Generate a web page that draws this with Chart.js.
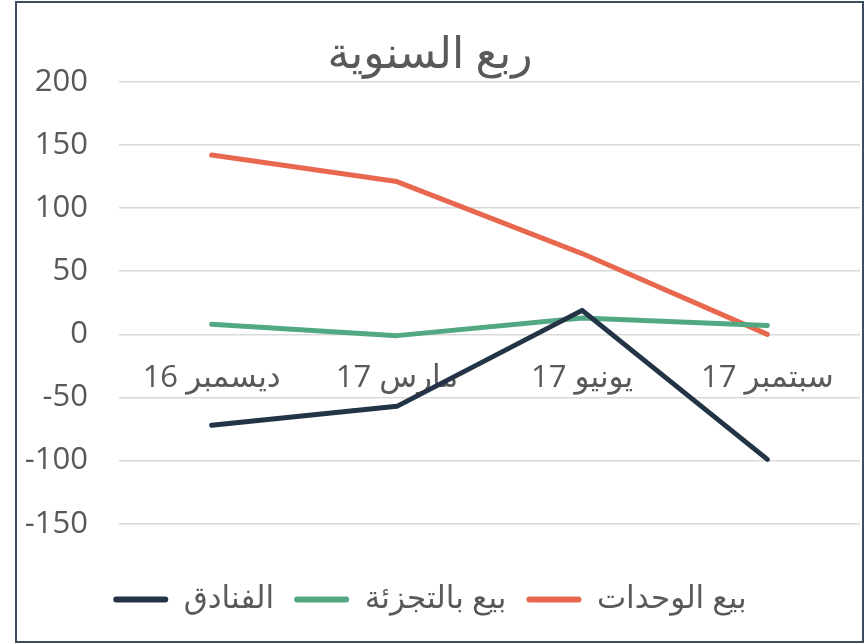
<!DOCTYPE html>
<html>
<head>
<meta charset="utf-8">
<script src="https://cdn.jsdelivr.net/npm/chart.js@4/dist/chart.umd.min.js"></script>
<style>
  html, body { margin: 0; padding: 0; background: #fff; }
  canvas { display: block; }
</style>
</head>
<body>
<canvas id="chart" width="865" height="644"></canvas>
<script>
const TEXT_COLOR = '#595959';
const GRID_COLOR = '#d9d9d9';
const FONT = "'Open Sans', 'DejaVu Sans', sans-serif";

const categories = ['ديسمبر 16', 'مارس 17', 'يونيو 17', 'سبتمبر 17'];
const hotels = [-72, -57, 19, -99];
const retail = [8, -1, 13, 7];
const units = [142, 121, 64, 0];
const yTicks = { min: -150, max: 200, step: 50 };

const frame = {
  id: 'frame',
  afterDraw(chart) {
    const ctx = chart.ctx;
    ctx.save();
    ctx.strokeStyle = '#3d4d5f';
    ctx.lineWidth = 2;
    ctx.strokeRect(16, 2, 847, 640);
    ctx.restore();
  },
};

const line = (label, data, color) => ({
  label,
  data,
  borderColor: color,
  backgroundColor: color,
  borderWidth: 5,
  borderCapStyle: 'round',
  borderJoinStyle: 'round',
  pointRadius: 0,
  tension: 0,
});

new Chart(document.getElementById('chart'), {
  type: 'line',
  data: {
    labels: categories,
    datasets: [
      line('الفنادق', hotels, '#233446'),
      line('بيع بالتجزئة', retail, '#52a883'),
      line('بيع الوحدات', units, '#e8684f'),
    ],
  },
  options: {
    responsive: false,
    animation: false,
    layout: { padding: { left: 0, right: 5, top: 0, bottom: 19 } },
    scales: {
      x: {
        type: 'category',
        position: { y: 0 },
        offset: true,
        grid: { display: false, drawTicks: false },
        border: { display: false },
        ticks: {
          color: TEXT_COLOR,
          font: { family: FONT, size: 31 },
          padding: 25,
          maxRotation: 0,
        },
      },
      y: {
        min: yTicks.min,
        max: yTicks.max,
        afterFit: (scale) => { scale.width = 119; },
        grid: { color: GRID_COLOR, lineWidth: 1.5, drawTicks: false },
        border: { display: false },
        ticks: {
          stepSize: yTicks.step,
          color: TEXT_COLOR,
          font: { family: FONT, size: 31 },
          padding: 31,
        },
      },
    },
    plugins: {
      title: {
        display: true,
        text: 'ربع السنوية',
        color: TEXT_COLOR,
        font: { family: FONT, size: 44, weight: 'normal' },
        padding: { top: 29, bottom: 0 },
      },
      legend: {
        position: 'bottom',
        title: { display: true, text: '', font: { size: 1 }, padding: { top: 39, bottom: 0 } },
        labels: {
          color: TEXT_COLOR,
          font: { family: FONT, size: 31 },
          boxWidth: 55,
          boxHeight: 6,
          useBorderRadius: true,
          borderRadius: 3,
          padding: 20,
          generateLabels: (chart) =>
            Chart.defaults.plugins.legend.labels.generateLabels(chart).map((item) => ({ ...item, lineWidth: 0 })),
        },
      },
      tooltip: { enabled: false },
    },
  },
  plugins: [frame],
});
</script>
</body>
</html>
